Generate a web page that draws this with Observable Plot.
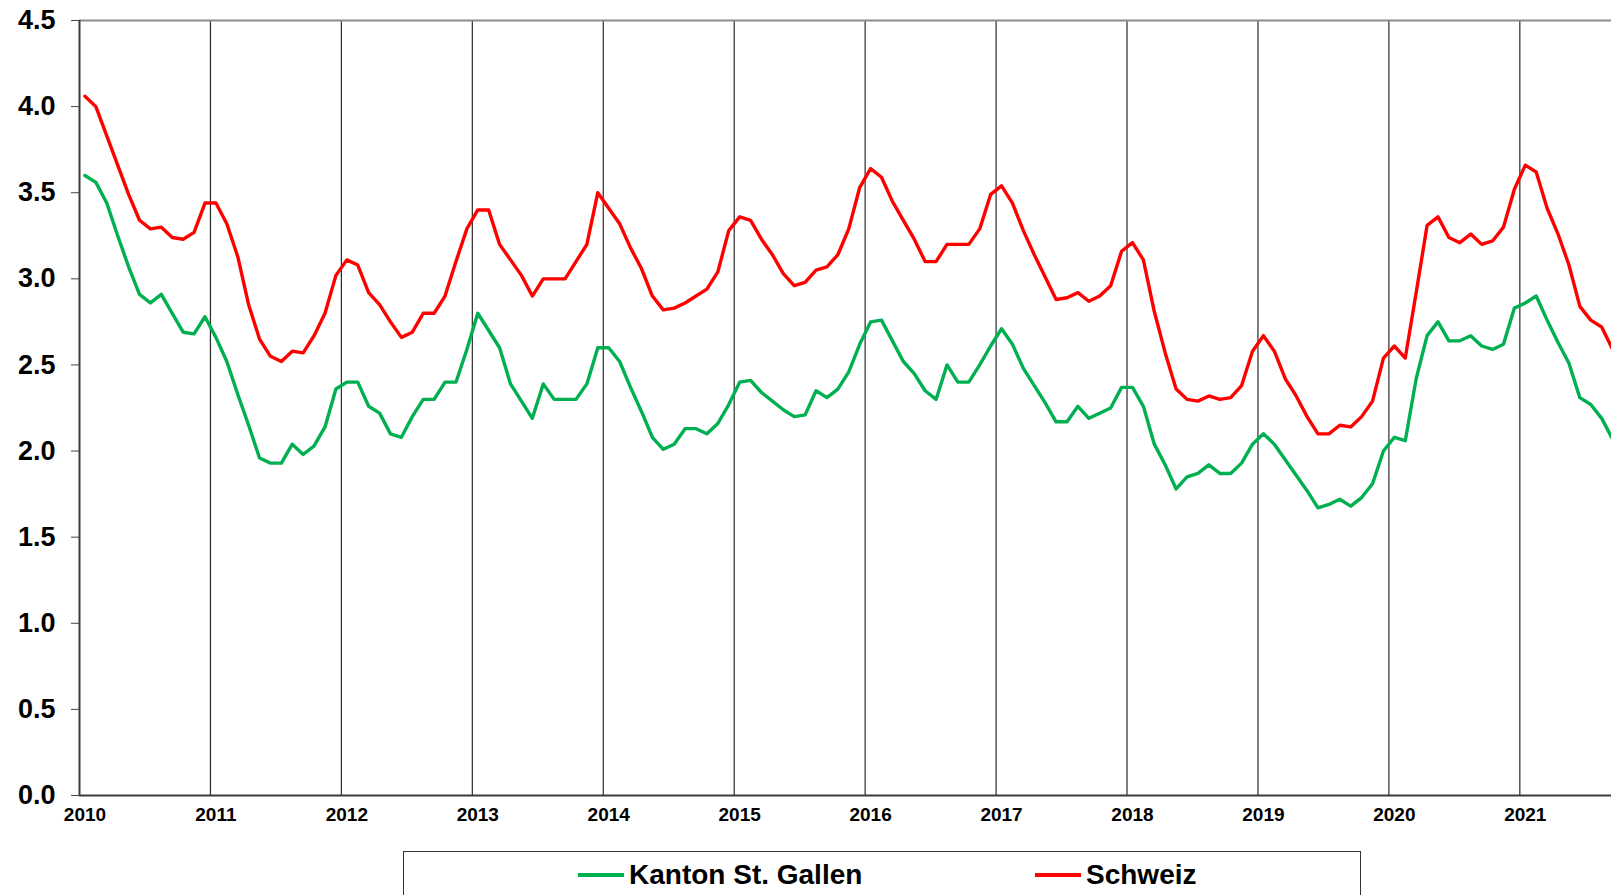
<!DOCTYPE html>
<html>
<head>
<meta charset="utf-8">
<script src="https://cdn.jsdelivr.net/npm/d3@7"></script>
<script src="https://cdn.jsdelivr.net/npm/@observablehq/plot@0.6"></script>
<style>
  html, body { margin: 0; padding: 0; background: #fff; overflow: hidden; }
  body { font-family: "Liberation Sans", Arial, sans-serif; font-weight: bold; width: 1611px; height: 895px; position: relative; }
  #chart svg { display: block; }
  #legend { position: absolute; left: 403px; top: 851px; width: 958px; height: 70px; border: 1.5px solid #333; box-sizing: border-box; }
  .item { position: absolute; top: 7px; display: flex; align-items: center; font-size: 28px; color: #000; white-space: nowrap; }
  .sw { display: inline-block; width: 46px; height: 4px; margin-right: 5px; }
</style>
</head>
<body>
<div id="chart"></div>
<div id="legend">
  <div class="item" style="left:174px"><span class="sw" style="background:#00B050"></span>Kanton St. Gallen</div>
  <div class="item" style="left:631px"><span class="sw" style="background:#FF0000"></span>Schweiz</div>
</div>
<script>
// Year tick labels (x axis), monthly series starting January 2010
const years = [2010, 2011, 2012, 2013, 2014, 2015, 2016, 2017, 2018, 2019, 2020, 2021];
const seriesNames = ["Kanton St. Gallen", "Schweiz"];
const stGallen = [
  3.60, 3.56, 3.44, 3.25, 3.07, 2.91, 2.86, 2.91, 2.80, 2.69, 2.68, 2.78,
  2.66, 2.52, 2.33, 2.15, 1.96, 1.93, 1.93, 2.04, 1.98, 2.03, 2.14, 2.36,
  2.40, 2.40, 2.26, 2.22, 2.10, 2.08, 2.20, 2.30, 2.30, 2.40, 2.40, 2.59,
  2.80, 2.70, 2.60, 2.39, 2.29, 2.19, 2.39, 2.30, 2.30, 2.30, 2.39, 2.60,
  2.60, 2.52, 2.37, 2.23, 2.08, 2.01, 2.04, 2.13, 2.13, 2.10, 2.16, 2.27,
  2.40, 2.41, 2.34, 2.29, 2.24, 2.20, 2.21, 2.35, 2.31, 2.36, 2.46, 2.62,
  2.75, 2.76, 2.64, 2.52, 2.45, 2.35, 2.30, 2.50, 2.40, 2.40, 2.50, 2.61,
  2.71, 2.62, 2.48, 2.38, 2.28, 2.17, 2.17, 2.26, 2.19, 2.22, 2.25, 2.37,
  2.37, 2.26, 2.04, 1.92, 1.78, 1.85, 1.87, 1.92, 1.87, 1.87, 1.93, 2.04,
  2.10, 2.04, 1.95, 1.86, 1.77, 1.67, 1.69, 1.72, 1.68, 1.73, 1.81, 2.00,
  2.08, 2.06, 2.42, 2.67, 2.75, 2.64, 2.64, 2.67, 2.61, 2.59, 2.62, 2.83,
  2.86, 2.90, 2.76, 2.63, 2.51, 2.31, 2.27, 2.19, 2.07
];
const schweiz = [
  4.06, 4.00, 3.83, 3.66, 3.49, 3.34, 3.29, 3.30, 3.24, 3.23, 3.27, 3.44,
  3.44, 3.32, 3.13, 2.85, 2.65, 2.55, 2.52, 2.58, 2.57, 2.67, 2.80, 3.02,
  3.11, 3.08, 2.92, 2.85, 2.75, 2.66, 2.69, 2.80, 2.80, 2.90, 3.10, 3.29,
  3.40, 3.40, 3.20, 3.11, 3.02, 2.90, 3.00, 3.00, 3.00, 3.10, 3.20, 3.50,
  3.41, 3.32, 3.18, 3.06, 2.90, 2.82, 2.83, 2.86, 2.90, 2.94, 3.04, 3.28,
  3.36, 3.34, 3.23, 3.14, 3.03, 2.96, 2.98, 3.05, 3.07, 3.14, 3.29, 3.53,
  3.64, 3.59, 3.45, 3.34, 3.23, 3.10, 3.10, 3.20, 3.20, 3.20, 3.29, 3.49,
  3.54, 3.44, 3.28, 3.14, 3.01, 2.88, 2.89, 2.92, 2.87, 2.90, 2.96, 3.16,
  3.21, 3.11, 2.81, 2.57, 2.36, 2.30, 2.29, 2.32, 2.30, 2.31, 2.38, 2.58,
  2.67, 2.58, 2.42, 2.32, 2.20, 2.10, 2.10, 2.15, 2.14, 2.20, 2.29, 2.54,
  2.61, 2.54, 2.92, 3.31, 3.36, 3.24, 3.21, 3.26, 3.20, 3.22, 3.30, 3.52,
  3.66, 3.62, 3.41, 3.26, 3.08, 2.84, 2.76, 2.72, 2.59
];
const yTicks = [0, 0.5, 1, 1.5, 2, 2.5, 3, 3.5, 4, 4.5];

// month index -> category centre (Excel "between tick marks" category axis)
const toRows = (vals, name) => vals.map((v, i) => ({m: i + 0.5, v, name}));
const rowsSG = toRows(stGallen, seriesNames[0]);
const rowsCH = toRows(schweiz, seriesNames[1]);
const yearStart = years.map(y => (y - years[0]) * 12);
const yearLabelPos = years.map(y => (y - years[0]) * 12 + 0.5);

const chart = Plot.plot({
  width: 1611,
  height: 830,
  marginLeft: 79,
  marginRight: 0,
  marginTop: 20,
  marginBottom: 35,
  style: {fontFamily: "'Liberation Sans', Arial, sans-serif", fontWeight: "bold", color: "#000", background: "#fff", overflow: "visible"},
  x: {domain: [0, 140.4], axis: null},
  y: {domain: [0, 4.5], axis: null},
  marks: [
    Plot.ruleX(yearStart.slice(1), {stroke: "#2a2a2a", strokeWidth: 1.2}),
    Plot.ruleY([4.5], {stroke: "#8c8c8c", strokeWidth: 2}),
    Plot.axisY(yTicks, {
      tickSize: 8, tickPadding: 16, fontSize: 27, fontWeight: "bold",
      tickFormat: d3.format(".1f"), stroke: "#444", label: null
    }),
    Plot.axisX(yearLabelPos, {
      tickSize: 0, tickPadding: 12, fontSize: 19, fontWeight: "bold",
      tickFormat: d => String(years[0] + Math.floor(d / 12)), label: null
    }),
    Plot.line(rowsSG, {x: "m", y: "v", stroke: "#00B050", strokeWidth: 3.4, strokeLinejoin: "round", clip: true}),
    Plot.line(rowsCH, {x: "m", y: "v", stroke: "#FF0000", strokeWidth: 3.4, strokeLinejoin: "round", clip: true}),
    Plot.ruleX([0], {stroke: "#3a3a3a", strokeWidth: 2}),
    Plot.ruleY([0], {stroke: "#3a3a3a", strokeWidth: 2})
  ]
});
document.getElementById("chart").appendChild(chart);
</script>
</body>
</html>
